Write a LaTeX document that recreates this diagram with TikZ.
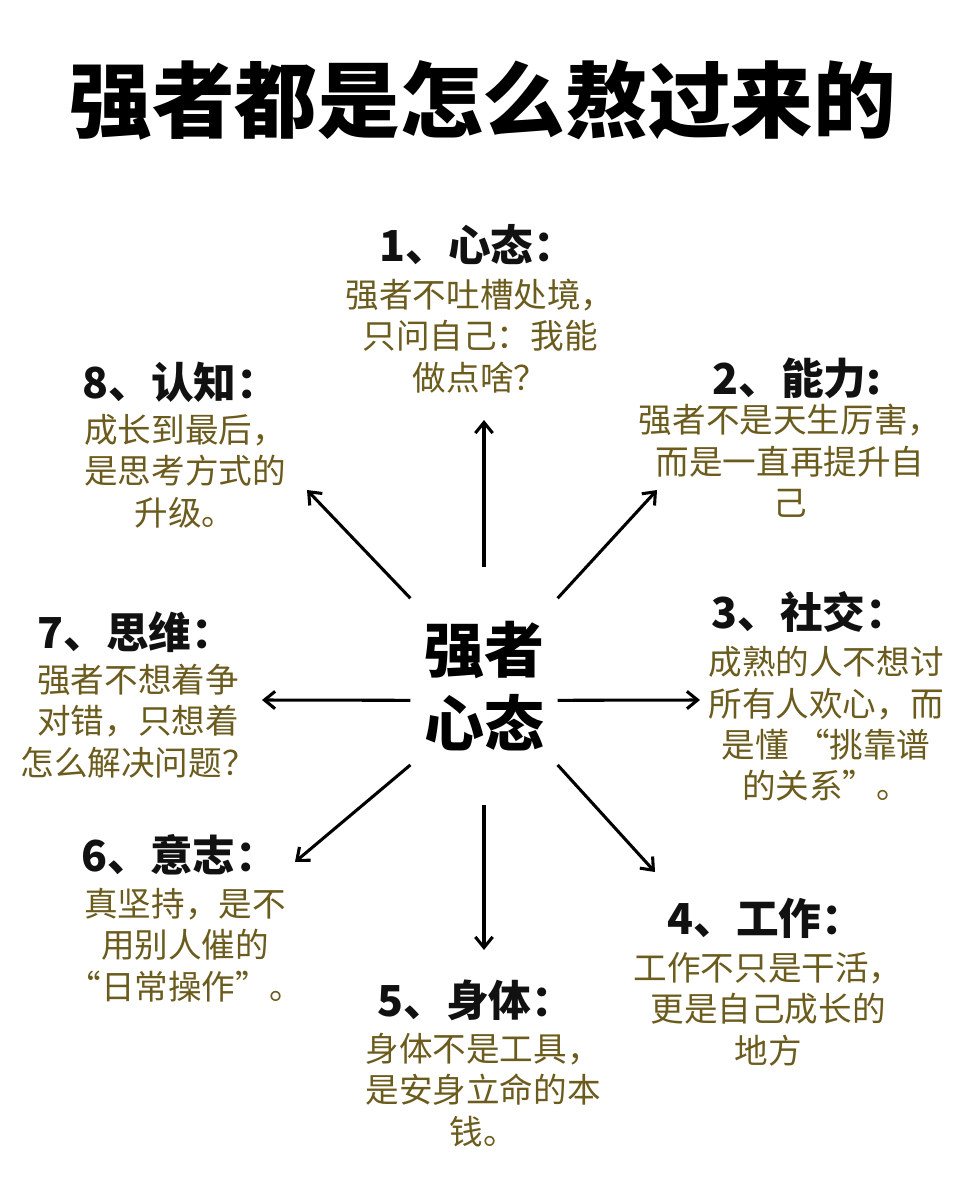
\documentclass[tikz,border=0pt]{standalone}
\usepackage{fontspec}
\setmainfont{Noto Sans CJK SC}
\usetikzlibrary{arrows.meta}
\definecolor{NoteGold}{HTML}{6B5B1D}
\definecolor{HeadInk}{HTML}{111111}

\begin{document}
\begin{tikzpicture}[
    x=0.75pt, y=-0.75pt,
    head/.style={text=HeadInk, font=\fontsize{32pt}{38pt}\selectfont\bfseries, inner sep=0pt},
    note/.style={text=NoteGold, align=center, font=\fontsize{25.2pt}{31pt}\selectfont, inner sep=0pt},
    hub/.style={minimum width=110pt, minimum height=178.5pt, align=center, inner sep=0pt,
      font=\fontsize{45pt}{56pt}\selectfont\bfseries},
    arrow/.style={-{Straight Barb[length=8pt,width=13pt]}, line width=2.3pt, color=black}
  ]
    \useasboundingbox[fill=white] (0,0) rectangle (960,1182);
    \node[font=\fontsize{62pt}{70pt}\selectfont\bfseries] (title) at (483,100) {强者都是怎么熬过来的};
    \node[hub] (core) at (484,686) {强者\\心态};

    \node[head] (head1) at (478,245) {1、心态：};
    \node[note] (note1) at (480,336) {强者不吐槽处境，\\只问自己：我能\\做点啥？};
    \node[head] (head2) at (797,378) {2、能力:};
    \node[note] (note2) at (790,461) {强者不是天生厉害，\\而是一直再提升自\\己};
    \node[head] (head3) at (810,612) {3、社交：};
    \node[note] (note3) at (826,724) {成熟的人不想讨\\所有人欢心，而\\是懂 “挑靠谱\\的关系”。};
    \node[head] (head4) at (766,918) {4、工作：};
    \node[note] (note4) at (768,1009) {工作不只是干活，\\更是自己成长的\\地方};
    \node[head] (head5) at (476,1000) {5、身体：};
    \node[note] (note5) at (483,1090) {身体不是工具，\\是安身立命的本\\钱。};
    \node[head] (head6) at (180,855) {6、意志：};
    \node[note] (note6) at (185,945) {真坚持，是不\\用别人催的\\“日常操作”。};
    \node[head] (head7) at (136,632) {7、思维：};
    \node[note] (note7) at (138,721) {强者不想着争\\对错，只想着\\怎么解决问题？};
    \node[head] (head8) at (181,382) {8、认知：};
    \node[note] (note8) at (185,471) {成长到最后，\\是思考方式的\\升级。};

    % arrow tips
    \coordinate (tip1) at (484,420);
    \coordinate (tip2) at (657,490);
    \coordinate (tip3) at (700,700);
    \coordinate (tip4) at (655,872);
    \coordinate (tip5) at (484,950);
    \coordinate (tip6) at (295,862);
    \coordinate (tip7) at (262,700);
    \coordinate (tip8) at (307,490);

    \draw[arrow] (core.north) -- (tip1);
    \draw[arrow] (core.50) -- (tip2);
    \draw[arrow] (core.-11) -- (tip3);
    \draw[arrow] (core.-47) -- (tip4);
    \draw[arrow] (core.south) -- (tip5);
    \draw[arrow] (core.-133) -- (tip6);
    \draw[arrow] (core.191) -- (tip7);
    \draw[arrow] (core.130) -- (tip8);
\end{tikzpicture}
\end{document}
